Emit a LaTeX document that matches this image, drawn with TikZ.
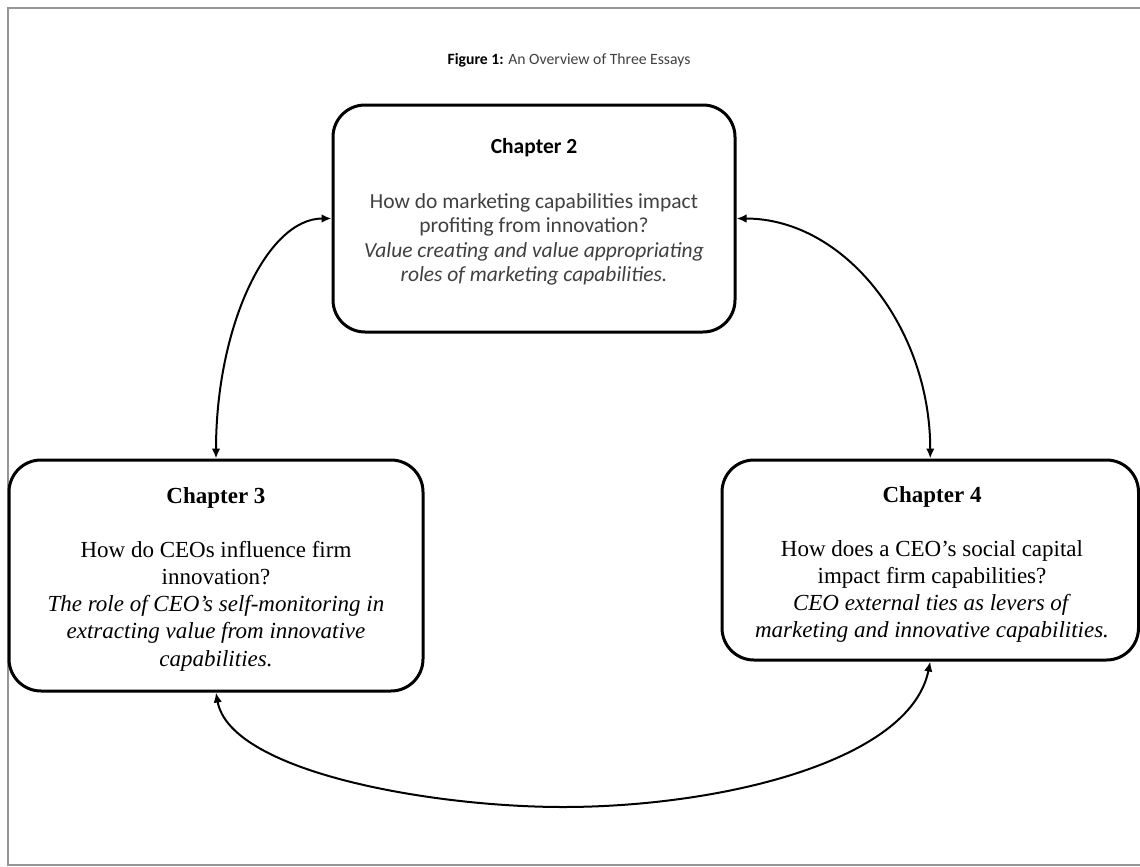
\documentclass[tikz,border=0pt]{standalone}
\usepackage{fontspec}
\setmainfont{Liberation Serif}
\newfontfamily\calibri{Carlito}
\usetikzlibrary{arrows.meta}
\definecolor{framegray}{RGB}{150,150,150}
\definecolor{bodygray}{RGB}{64,64,64}

\begin{document}
\begin{tikzpicture}[x=1pt,y=-1pt,
  chapbox/.style={draw=black, line width=3pt, rounded corners=32pt, inner sep=0pt, fill=white},
  sanstext/.style={align=center, inner sep=0pt, text=bodygray,
    font=\calibri\fontsize{21.5}{24.5}\selectfont},
  seriftext/.style={align=center, inner sep=0pt, text=black,
    font=\fontsize{23}{27.2}\selectfont},
  link/.style={line width=2pt, {Latex[length=10pt,width=8.5pt]}-{Latex[length=10pt,width=8.5pt]}}
]
\useasboundingbox (0,0) rectangle (1140,867);

% page frame
\draw[framegray, line width=2pt] (1142,8) -- (8,8) -- (8,865) -- (1142,865);

% title
\node[anchor=base, inner sep=0pt, text=bodygray] (title) at (569,65)
  {\calibri\fontsize{15.7}{19}\selectfont\textcolor{black}{\bfseries Figure 1:} An Overview of Three Essays};

% chapter boxes
\node[chapbox, minimum width=402pt, minimum height=227pt] (c2) at (534,218.5) {};
\node[chapbox, minimum width=414pt, minimum height=231pt] (c3) at (216,575.5) {};
\node[chapbox, minimum width=416.5pt, minimum height=200pt] (c4) at (930.25,560) {};

% box texts
\node[sanstext] (t2) at (534,212) {%
  \textcolor{black}{\bfseries Chapter 2}\\[30.5pt]
  How do marketing capabilities impact\\
  profiting from innovation?\\
  \textit{Value creating and value appropriating}\\
  \textit{roles of marketing capabilities.}};

\node[seriftext] (t3) at (216,579) {%
  \textbf{Chapter 3}\\[27pt]
  How do CEOs influence firm\\
  innovation?\\
  \textit{The role of CEO’s self-monitoring in}\\
  \textit{extracting value from innovative}\\
  \textit{capabilities.}};

\node[seriftext] (t4) at (932,564.5) {%
  \textbf{Chapter 4}\\[27pt]
  How does a CEO’s social capital\\
  impact firm capabilities?\\
  \textit{CEO external ties as levers of}\\
  \textit{marketing and innovative capabilities.}};

% connectors
\coordinate (low) at (563,807);
\draw[link] (c2.west) .. controls +(-65,0) and +(0,-131) .. (c3.north);
\draw[link] (c2.east) .. controls +(108,0) and +(0,-131) .. (c4.north);
\draw[link] (c3.south) .. controls +(14,79) and +(-133,0) .. (low)
            .. controls +(157,0) and +(-20,100) .. (c4.south);
\end{tikzpicture}
\end{document}
